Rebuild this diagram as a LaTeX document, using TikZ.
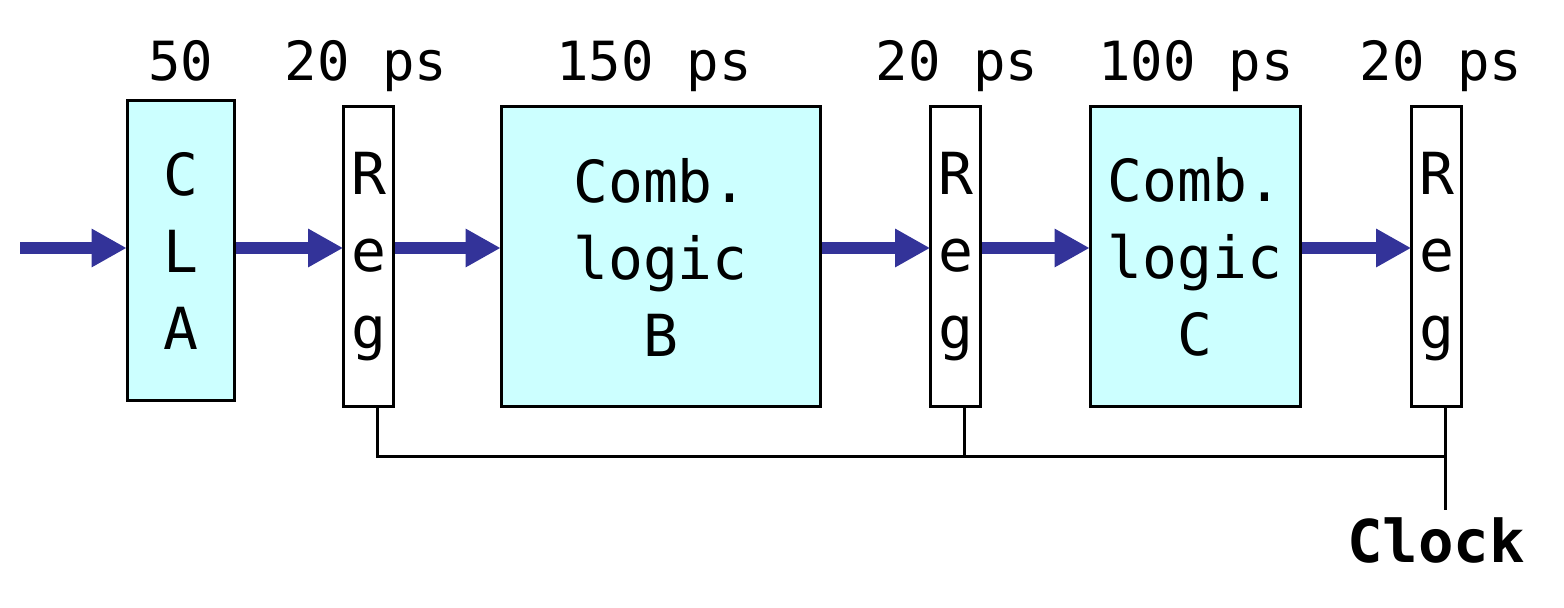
\documentclass[tikz,border=0pt]{standalone}
\usepackage{fontspec}
\setmonofont{DejaVu Sans Mono}
\usetikzlibrary{arrows.meta}
\definecolor{logicfill}{HTML}{CCFFFF}
\definecolor{flowblue}{HTML}{333399}
\tikzset{
  stage/.style={draw,line width=1.5pt,fill=logicfill,inner sep=0pt,align=center,minimum height=150pt},
  regbox/.style={draw,line width=1.5pt,fill=white,inner sep=0pt,align=center,minimum width=25pt,minimum height=150pt},
  flow/.style={line width=6pt,flowblue,-{Triangle[length=17.5pt,width=18pt]},shorten >=-0.6pt},
  wire/.style={line width=1.5pt},
  delay/.style={anchor=base,inner sep=0pt,font=\ttfamily\fontsize{27}{32}\selectfont}
}
\begin{document}
\begin{tikzpicture}[x=0.5pt,y=-0.5pt,font=\ttfamily\fontsize{29}{38.5}\selectfont]
\useasboundingbox (0,0) rectangle (1564,608);
% blocks
\node[stage,minimum width=53.5pt] (cla) at (180.5,251) {C\\L\\A};
\node[regbox] (reg1) at (368.5,257) {R\\e\\g};
\node[stage,minimum width=159.5pt] (combB) at (660.5,257) {Comb.\\logic\\B};
\node[regbox] (reg2) at (955.5,257) {R\\e\\g};
\node[stage,minimum width=105pt] (combC) at (1195,257) {Comb.\\logic\\C};
\node[regbox] (reg3) at (1436.5,257) {R\\e\\g};
% delays
\node[delay] (dcla) at (181,81) {50};
\node[delay] (dreg1) at (366,81) {20 ps};
\node[delay] (dcombB) at (654,81) {150 ps};
\node[delay] (dreg2) at (957,81) {20 ps};
\node[delay] (dcombC) at (1196,81) {100 ps};
\node[delay] (dreg3) at (1441,81) {20 ps};
% data flow
\coordinate (in) at (20,248);
\draw[flow] (in) -- (in -| cla.west);
\draw[flow] (cla.east |- in) -- (reg1.west |- in);
\draw[flow] (reg1.east |- in) -- (combB.west |- in);
\draw[flow] (combB.east |- in) -- (reg2.west |- in);
\draw[flow] (reg2.east |- in) -- (combC.west |- in);
\draw[flow] (combC.east |- in) -- (reg3.west |- in);
% clock
\coordinate (bus) at (1445.5,457);
\coordinate (clkend) at (1445.5,510);
\node[delay,font=\ttfamily\bfseries\fontsize{29.5}{34}\selectfont] (clock) at (1436,563) {Clock};
\draw[wire] ([xshift=4.5pt]reg1.south) |- (bus);
\draw[wire] ([xshift=4.5pt]reg2.south) -- ([xshift=4.5pt]reg2.south |- bus);
\draw[wire] ([xshift=4.5pt]reg3.south) -- (clkend);
\end{tikzpicture}
\end{document}
